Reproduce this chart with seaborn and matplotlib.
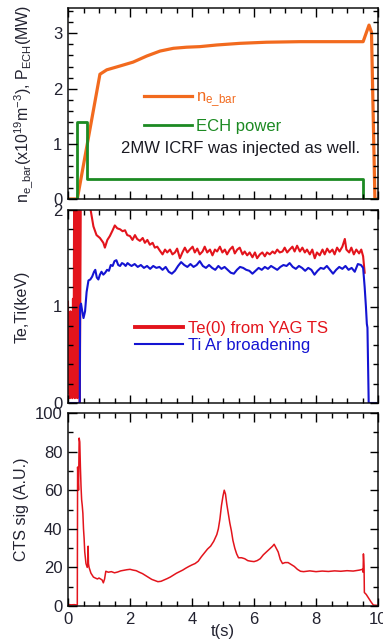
import numpy as np
import pandas as pd
import matplotlib
matplotlib.use("Agg")
import matplotlib.pyplot as plt
import seaborn as sns
from matplotlib.ticker import MultipleLocator
from matplotlib.collections import LineCollection

# ---------------- data ----------------
ne_t = [0.0, 0.30, 1.03, 1.25, 1.68, 2.10, 2.54, 2.97, 3.40, 3.83, 4.25, 4.80,
        5.55, 6.40, 7.48, 8.56, 9.52, 9.71, 9.79, 9.90, 10.0]
ne_v = [0.0, 0.0, 2.26, 2.34, 2.41, 2.48, 2.59, 2.68, 2.73, 2.75, 2.76, 2.79,
        2.82, 2.84, 2.85, 2.85, 2.85, 3.15, 3.02, 0.0, 0.0]

ech_t = [0.0, 0.30, 0.30, 0.60, 0.60, 9.52, 9.52, 10.0]
ech_v = [0.0, 0.0, 1.40, 1.40, 0.37, 0.37, 0.0, 0.0]

te_t = [0.00, 0.02, 0.04, 0.06, 0.08, 0.10, 0.12, 0.14, 0.16, 0.18, 0.20, 0.22,
        0.24, 0.26, 0.28, 0.30, 0.32, 0.34, 0.36, 0.38, 0.42, 0.60,
        0.73, 0.82, 0.92, 1.03, 1.14, 1.19, 1.27, 1.35, 1.44, 1.51, 1.59, 1.68,
        1.76, 1.84, 1.91, 2.00, 2.08, 2.16, 2.23, 2.32, 2.41, 2.48, 2.56, 2.64,
        2.73, 2.80, 2.88, 2.96, 3.05, 3.13, 3.20, 3.29, 3.37, 3.45, 3.52, 3.61,
        3.69, 3.77, 3.85, 3.93, 4.02, 4.09, 4.17, 4.25, 4.34, 4.41, 4.49, 4.58,
        4.66, 4.74, 4.81, 4.90, 4.98, 5.06, 5.13, 5.22, 5.31, 5.38, 5.46, 5.54,
        5.63, 5.70, 5.78, 5.86, 5.95, 6.03, 6.10, 6.19, 6.27, 6.35, 6.42, 6.51,
        6.60, 6.67, 6.75, 6.83, 6.92, 6.99, 7.07, 7.15, 7.24, 7.31, 7.39, 7.48,
        7.56, 7.64, 7.71, 7.80, 7.88, 7.96, 8.03, 8.12, 8.21, 8.28, 8.36, 8.44,
        8.53, 8.60, 8.68, 8.76, 8.85, 8.93, 8.98, 9.07, 9.14, 9.22, 9.30, 9.39,
        9.46, 9.52, 9.57]
te_v = [1.05, 0.10, 0.75, 0.05, 0.95, 0.10, 0.55, 0.05, 1.08, 0.15, 2.50, 0.05,
        2.50, 0.30, 2.50, 0.05, 2.50, 0.10, 2.50, 0.00, 2.60, 2.60,
        2.00, 1.83, 1.74, 1.71, 1.66, 1.61, 1.69, 1.73, 1.79, 1.84, 1.81, 1.80,
        1.78, 1.79, 1.74, 1.73, 1.69, 1.74, 1.70, 1.68, 1.71, 1.66, 1.69, 1.64,
        1.66, 1.61, 1.62, 1.58, 1.54, 1.59, 1.56, 1.59, 1.54, 1.56, 1.60, 1.50,
        1.56, 1.61, 1.56, 1.59, 1.62, 1.56, 1.60, 1.54, 1.57, 1.62, 1.56, 1.59,
        1.53, 1.59, 1.57, 1.62, 1.56, 1.59, 1.54, 1.59, 1.62, 1.55, 1.59, 1.61,
        1.54, 1.57, 1.53, 1.56, 1.51, 1.56, 1.50, 1.54, 1.56, 1.52, 1.56, 1.54,
        1.57, 1.55, 1.59, 1.56, 1.57, 1.61, 1.56, 1.59, 1.62, 1.57, 1.63, 1.57,
        1.61, 1.56, 1.59, 1.54, 1.59, 1.50, 1.56, 1.53, 1.59, 1.54, 1.60, 1.56,
        1.59, 1.54, 1.61, 1.57, 1.62, 1.70, 1.59, 1.56, 1.61, 1.54, 1.59, 1.55,
        1.59, 1.52, 1.35]

ti_t = [0.00, 0.38, 0.39, 0.42, 0.46, 0.50, 0.55, 0.60, 0.66, 0.72, 0.78, 0.84,
        0.88, 0.93, 0.98, 1.03, 1.08, 1.14, 1.20, 1.26, 1.32, 1.38, 1.44, 1.50,
        1.56, 1.62, 1.68, 1.74, 1.80, 1.86, 1.92, 2.00,
        2.05, 2.15, 2.25, 2.35, 2.45, 2.55, 2.65, 2.75, 2.85, 2.95, 3.05, 3.15,
        3.25, 3.35, 3.45, 3.55, 3.65, 3.75, 3.85, 3.95, 4.05, 4.15, 4.25, 4.35,
        4.45, 4.55, 4.65, 4.75, 4.85, 4.95, 5.05, 5.15, 5.25, 5.35, 5.45, 5.55,
        5.65, 5.75, 5.85, 5.95, 6.05, 6.15, 6.25, 6.35, 6.45, 6.55, 6.65, 6.75,
        6.85, 6.95, 7.05, 7.15, 7.25, 7.35, 7.45, 7.55, 7.65, 7.75, 7.85, 7.95,
        8.05, 8.15, 8.25, 8.35, 8.45, 8.55, 8.65, 8.75, 8.85, 8.95, 9.05, 9.15,
        9.25, 9.35, 9.45, 9.52, 9.57, 9.61, 9.64, 9.66, 9.70, 10.0]
ti_v = [0.00, 0.00, 1.00, 1.03, 0.95, 0.88, 0.95, 1.15, 1.27, 1.28, 1.31, 1.36,
        1.38, 1.30, 1.28, 1.33, 1.36, 1.33, 1.35, 1.38, 1.37, 1.43, 1.42, 1.47,
        1.48, 1.43, 1.42, 1.45, 1.44, 1.42, 1.45, 1.43,
        1.42, 1.44, 1.41, 1.43, 1.40, 1.42, 1.39, 1.42, 1.40, 1.41, 1.38, 1.41,
        1.36, 1.34, 1.37, 1.42, 1.46, 1.43, 1.41, 1.44, 1.41, 1.43, 1.47, 1.42,
        1.40, 1.43, 1.40, 1.38, 1.42, 1.39, 1.41, 1.38, 1.35, 1.34, 1.38, 1.41,
        1.40, 1.38, 1.37, 1.34, 1.37, 1.40, 1.38, 1.41, 1.39, 1.42, 1.40, 1.38,
        1.41, 1.43, 1.42, 1.45, 1.41, 1.39, 1.42, 1.40, 1.37, 1.40, 1.38, 1.33,
        1.37, 1.40, 1.39, 1.42, 1.38, 1.34, 1.38, 1.41, 1.39, 1.42, 1.38, 1.40,
        1.36, 1.44, 1.43, 1.40, 1.20, 1.00, 0.82, 0.78, 0.00, 0.00]

cts_t = [0.00, 0.10, 0.20, 0.29, 0.30, 0.31, 0.34, 0.36, 0.38, 0.40, 0.42, 0.44,
         0.46, 0.48, 0.50, 0.52, 0.54, 0.56, 0.58, 0.60, 0.62, 0.64, 0.65, 0.66,
         0.68, 0.70, 0.74, 0.78, 0.82, 0.88, 0.95, 1.00, 1.05, 1.10, 1.14, 1.18,
         1.22, 1.30, 1.40, 1.50, 1.60, 1.70, 1.80, 1.90, 2.00, 2.10, 2.20, 2.30,
         2.40, 2.50, 2.60, 2.70, 2.80, 2.90, 3.00, 3.10, 3.20, 3.30, 3.40, 3.50,
         3.60, 3.70, 3.80, 3.90, 4.00, 4.10, 4.20, 4.30, 4.40, 4.50, 4.60, 4.70,
         4.80, 4.85, 4.90, 4.95, 5.00, 5.04, 5.08, 5.12, 5.17, 5.22, 5.27, 5.32,
         5.38, 5.44, 5.50, 5.60, 5.70, 5.80, 5.90, 6.00, 6.10, 6.20, 6.30, 6.40,
         6.50, 6.60, 6.65, 6.70, 6.78, 6.85, 6.92, 7.00, 7.10, 7.20, 7.30, 7.40,
         7.50, 7.60, 7.80, 8.00, 8.20, 8.40, 8.60, 8.80, 9.00, 9.20, 9.40, 9.50,
         9.52, 9.53, 9.55, 9.56, 9.62, 9.70, 9.78, 9.85, 10.0]
cts_v = [0.8, 0.6, 0.7, 0.5, 0.5, 72.0, 60.0, 87.0, 85.0, 72.0, 62.0, 55.0,
         52.0, 48.0, 40.0, 35.0, 28.0, 25.0, 22.0, 21.0, 20.0, 22.0, 31.0, 22.0,
         20.0, 19.0, 17.0, 16.0, 15.0, 14.5, 14.0, 14.5, 14.0, 13.5, 12.0, 14.0,
         18.0, 17.5, 17.8, 17.2, 17.6, 18.2, 18.5, 18.8, 19.0, 18.6, 18.3, 17.5,
         16.8, 15.8, 14.8, 13.8, 13.2, 12.6, 12.8, 13.5, 14.2, 15.0, 16.0, 17.0,
         17.8, 18.6, 19.6, 20.5, 21.3, 22.0, 23.2, 25.5, 27.5, 29.5, 31.0, 33.5,
         37.0, 40.0, 45.0, 52.0, 57.0, 60.0, 58.0, 53.0, 48.0, 43.0, 39.0, 34.0,
         30.0, 27.0, 25.0, 25.0, 24.5, 23.5, 23.2, 23.0, 23.5, 24.5, 26.5, 28.0,
         29.5, 31.0, 32.0, 30.5, 28.0, 24.0, 22.0, 22.5, 22.5, 21.5, 20.5, 19.0,
         18.0, 17.8, 18.2, 17.8, 18.1, 17.9, 18.2, 18.0, 18.3, 18.1, 18.6, 19.0,
         17.5, 27.0, 21.0, 7.0, 6.0, 4.0, 2.0, 0.5, 0.3]

x_ticks = [0, 2, 4, 6, 8, 10]

# ---------------- style ----------------
matplotlib.rcdefaults()
plt.rcParams["font.family"] = ["Liberation Sans", "DejaVu Sans"]
plt.rcParams["mathtext.fontset"] = "custom"
plt.rcParams["mathtext.rm"] = "Liberation Sans"
plt.rcParams["mathtext.it"] = "Liberation Sans"
plt.rcParams["axes.linewidth"] = 1.1
plt.rcParams["axes.edgecolor"] = "#111111"
plt.rcParams["axes.axisbelow"] = False

TXT = "#222230"
ORANGE = "#f26a1e"
GREEN = "#1c8a22"
RED = "#e3141c"
BLUE = "#1414d2"

FW, FH = 383, 639
fig = plt.figure(figsize=(FW / 100, FH / 100), dpi=100)
L, W = 68 / FW, 310 / FW
ax1 = fig.add_axes([L, 1 - 199 / FH, W, 191 / FH])
ax2 = fig.add_axes([L, 1 - 403 / FH, W, 193 / FH])
ax3 = fig.add_axes([L, 1 - 606 / FH, W, 193 / FH])


def inward_ticks(ax, major_px=8.5, minor_px=5.0):
    """Draw inward tick marks on all four sides at the locator positions."""
    bb = ax.get_position()
    wpx, hpx = bb.width * FW, bb.height * FH
    x0, x1 = sorted(ax.get_xlim())
    y0, y1 = sorted(ax.get_ylim())
    segs = []
    for locs, ln in ((ax.xaxis.get_majorticklocs(), major_px),
                     (ax.xaxis.get_minorticklocs(), minor_px)):
        f = ln / hpx
        for v in locs:
            if x0 - 1e-9 <= v <= x1 + 1e-9:
                segs += [[(v, 0), (v, f)], [(v, 1), (v, 1 - f)]]
    ax.add_collection(LineCollection(segs, colors="black", linewidths=1.0,
                                     transform=ax.get_xaxis_transform(),
                                     clip_on=False, zorder=5), autolim=False)
    segs = []
    for locs, ln in ((ax.yaxis.get_majorticklocs(), major_px),
                     (ax.yaxis.get_minorticklocs(), minor_px)):
        f = ln / wpx
        for v in locs:
            if y0 - 1e-9 <= v <= y1 + 1e-9:
                segs += [[(0, v), (f, v)], [(1, v), (1 - f, v)]]
    ax.add_collection(LineCollection(segs, colors="black", linewidths=1.0,
                                     transform=ax.get_yaxis_transform(),
                                     clip_on=False, zorder=5), autolim=False)


def style(ax, ymaj, ymin, show_x):
    ax.set_xlim(0, 10)
    ax.xaxis.set_major_locator(MultipleLocator(2))
    ax.xaxis.set_minor_locator(MultipleLocator(0.5))
    ax.yaxis.set_major_locator(MultipleLocator(ymaj))
    ax.yaxis.set_minor_locator(MultipleLocator(ymin))
    ax.tick_params(which="both", direction="in", top=True, right=True,
                   bottom=True, left=True, color="black", width=1.0,
                   length=0, pad=4, labelsize=12, labelcolor=TXT)
    if not show_x:
        ax.tick_params(axis="x", labelbottom=False)
    ax.set_xlabel("")
    inward_ticks(ax)


# panel 1
df_ne = pd.DataFrame({"t": ne_t, "v": ne_v})
df_ech = pd.DataFrame({"t": ech_t, "v": ech_v})
sns.lineplot(data=df_ne, x="t", y="v", ax=ax1, color=ORANGE, lw=2.3,
             estimator=None, sort=False, label=r"n$_{\mathregular{e\_bar}}$")
sns.lineplot(data=df_ech, x="t", y="v", ax=ax1, color=GREEN, lw=2.0,
             estimator=None, sort=False, label="ECH power")
ax1.set_ylim(0, 3.46)
style(ax1, 1, 0.2, False)
ax1.set_ylabel(r"n$_{\mathregular{e\_bar}}$(x10$^{\mathregular{19}}$m$^{\mathregular{-3}}$), P$_{\mathregular{ECH}}$(MW)",
               fontsize=11.5, color=TXT)
ax1.yaxis.set_label_coords(-0.105, 0.5)
leg1 = ax1.legend(loc="upper left", bbox_to_anchor=(0.245, 0.574), frameon=False,
                  fontsize=12, handlelength=2.9, handletextpad=0.25,
                  labelspacing=0.6, borderpad=0, borderaxespad=0,
                  labelcolor="linecolor")
ax1.text(0.171, 0.262, "2MW ICRF was injected as well.", transform=ax1.transAxes,
         fontsize=12, color="#1a1a22", va="center", ha="left")

# panel 2
df_te = pd.DataFrame({"t": te_t, "v": te_v})
df_ti = pd.DataFrame({"t": ti_t, "v": ti_v})
sns.lineplot(data=df_te, x="t", y="v", ax=ax2, color=RED, lw=1.5,
             estimator=None, sort=False, label="Te(0) from YAG TS")
sns.lineplot(data=df_ti, x="t", y="v", ax=ax2, color=BLUE, lw=1.5,
             estimator=None, sort=False, label="Ti Ar broadening")
ax2.set_ylim(0, 2)
style(ax2, 1, 0.2, False)
ax2.set_ylabel("Te,Ti(keV)", fontsize=11.5, color=TXT)
ax2.yaxis.set_label_coords(-0.125, 0.5)
leg2 = ax2.legend(loc="upper left", bbox_to_anchor=(0.216, 0.425), frameon=False,
                  fontsize=12, handlelength=2.9, handletextpad=0.3,
                  labelspacing=0.1, borderpad=0, borderaxespad=0,
                  labelcolor="linecolor")
for h in leg2.legend_handles[:1]:
    h.set_linewidth(2.8)

# panel 3
df_cts = pd.DataFrame({"t": cts_t, "v": cts_v})
sns.lineplot(data=df_cts, x="t", y="v", ax=ax3, color=RED, lw=1.1,
             estimator=None, sort=False, legend=False)
ax3.set_ylim(0, 100)
ax3.set_xticks(x_ticks)
style(ax3, 20, 10, True)
ax3.set_ylabel("CTS sig (A.U.)", fontsize=11.5, color=TXT)
ax3.yaxis.set_label_coords(-0.125, 0.5)
ax3.set_xlabel("t(s)", fontsize=12, color=TXT, labelpad=-2)

fig.savefig("out.png", dpi=100)
